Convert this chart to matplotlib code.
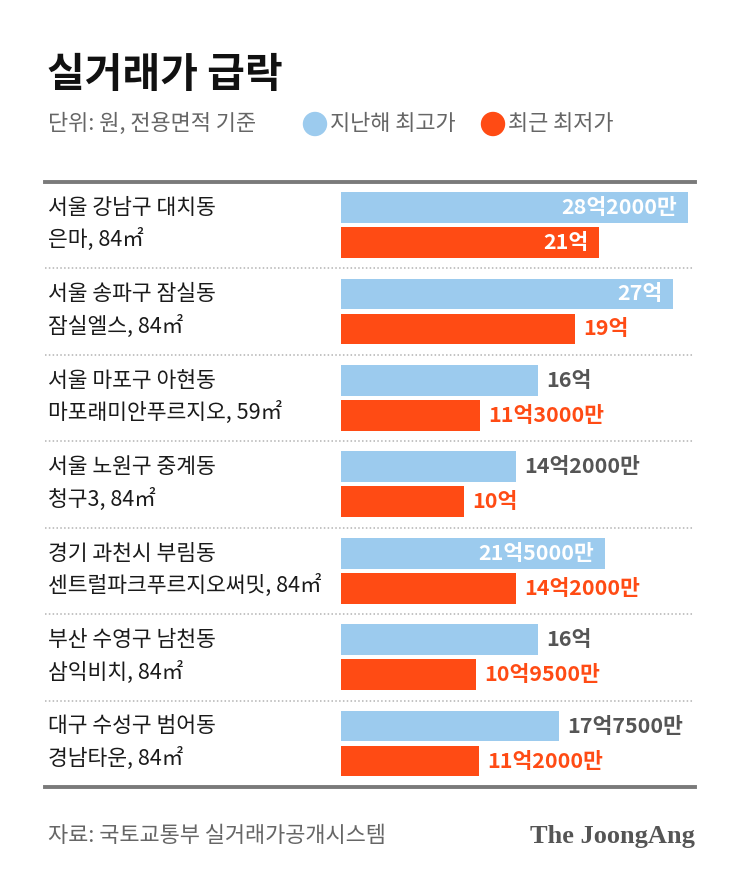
import matplotlib.pyplot as plt
from matplotlib.patches import Ellipse

plt.rcParams['font.family'] = ['Noto Sans CJK KR', 'DejaVu Sans']

region = ['서울 강남구 대치동', '서울 송파구 잠실동', '서울 마포구 아현동', '서울 노원구 중계동',
          '경기 과천시 부림동', '부산 수영구 남천동', '대구 수성구 범어동']
apt = ['은마, 84㎡', '잠실엘스, 84㎡', '마포래미안푸르지오, 59㎡', '청구3, 84㎡',
       '센트럴파크푸르지오써밋, 84㎡', '삼익비치, 84㎡', '경남타운, 84㎡']
high = [28.2, 27, 16, 14.2, 21.5, 16, 17.75]   # 억원
low = [21, 19, 11.3, 10, 14.2, 10.95, 11.2]

BLUE = '#9ccbee'
RED = '#ff4b14'
W, H = 743, 873


def fmt(v):
    eok = int(v)
    man = int(round((v - eok) * 10000))
    return f'{eok}억' + (f'{man}만' if man else '')


fig = plt.figure(figsize=(W / 100, H / 100), dpi=100)
fig.patch.set_facecolor('white')

# axes from x=45..695 px, y=182..787 px
ax = fig.add_axes([45 / W, 1 - 787 / H, 650 / W, 605 / H])
px = 12.3  # pixels per 억
ax.set_xlim(-296 / px, 354 / px)
ax.set_ylim(7, 0)
ax.axis('off')

n = len(region)
for i in range(n):
    yb = i + 0.295
    yr = i + 0.70
    ax.barh(yb, high[i], height=0.355, left=0, color=BLUE)
    ax.barh(yr, low[i], height=0.355, left=0, color=RED)

    for y, v, c in [(yb, high[i], '#555555'), (yr, low[i], RED)]:
        if v >= 20:
            ax.annotate(fmt(v), (v, y), xytext=(-8, 0), textcoords='offset points',
                        ha='right', va='center', fontsize=15.5, color='white',
                        fontweight='bold')
        else:
            ax.annotate(fmt(v), (v, y), xytext=(6, 0), textcoords='offset points',
                        ha='left', va='center', fontsize=15.5, color=c,
                        fontweight='bold')

    tr = ax.get_yaxis_transform()
    ax.text(0.005, i + 0.30, region[i], transform=tr, ha='left', va='center',
            fontsize=15.5, color='#1a1a1a')
    ax.text(0.005, i + 0.67, apt[i], transform=tr, ha='left', va='center',
            fontsize=15.5, color='#1a1a1a')

# separators
for k in range(1, n):
    ax.axhline(k, xmin=0, xmax=0.997, color='#b3b3b3', lw=1.1,
               linestyle=(0, (1, 1.5)))
ax.axhline(0, color='#7a7a7a', lw=2.8, clip_on=False)
ax.axhline(n, color='#7a7a7a', lw=2.8, clip_on=False)

# title and subtitle
fig.text(47 / W, 1 - 75 / H, '실거래가 급락', fontsize=29.5, fontweight='bold',
         color='#111111', ha='left', va='center')
fig.text(48 / W, 1 - 124 / H, '단위: 원, 전용면적 기준', fontsize=15.8, color='#666666',
         ha='left', va='center')

# legend
for cx, col, lab in [(315, BLUE, '지난해 최고가'), (493, RED, '최근 최저가')]:
    fig.add_artist(Ellipse((cx / W, 1 - 124 / H), 23 / W, 23 / H,
                           transform=fig.transFigure, color=col))
    fig.text((cx + 15) / W, 1 - 124 / H, lab, fontsize=15.8, color='#666666',
             ha='left', va='center')

# footer
fig.text(48 / W, 1 - 836 / H, '자료: 국토교통부 실거래가공개시스템', fontsize=15.8,
         color='#666666', ha='left', va='center')
fig.text(695 / W, 1 - 836 / H, 'The JoongAng', fontsize=19, fontweight='bold',
         family='Liberation Serif', color='#555555', ha='right', va='center')

fig.savefig('out.png', dpi=100, facecolor='white')
